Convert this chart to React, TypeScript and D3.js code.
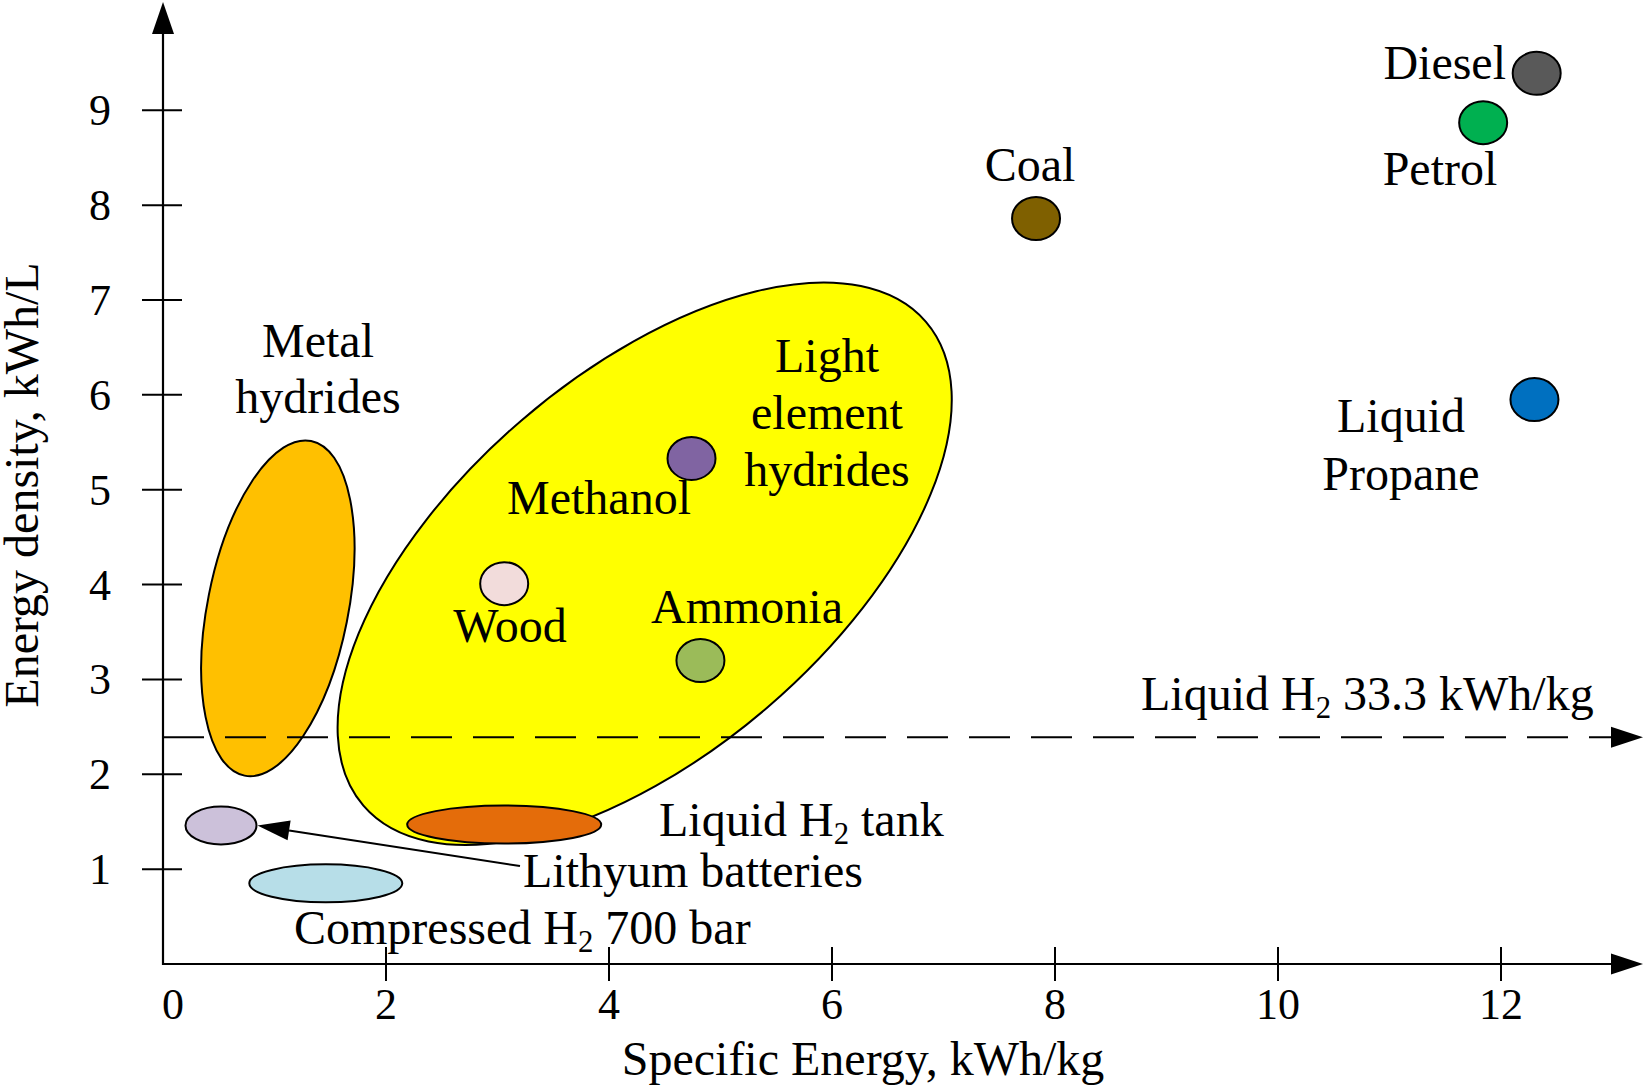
import React from "react";
import * as d3 from "d3";

// ---------- data ----------
const xTickValues = [0, 2, 4, 6, 8, 10, 12];
const yTickValues = [1, 2, 3, 4, 5, 6, 7, 8, 9];

const fuelNames = ["Diesel", "Petrol", "Coal", "Liquid Propane", "Methanol", "Wood", "Ammonia"];
const fuelSpecificEnergy = [12.32, 11.84, 7.83, 12.3, 4.74, 3.06, 4.82];
const fuelEnergyDensity = [9.39, 8.87, 7.86, 5.95, 5.33, 4.01, 3.2];

const regionNames = ["Light element hydrides", "Metal hydrides", "Liquid H2 tank", "Lithyum batteries", "Compressed H2 700 bar"];
const regionSpecificEnergy = [4.32, 1.03, 3.06, 0.52, 1.46];
const regionEnergyDensity = [4.22, 3.75, 1.47, 1.46, 0.85];

const liquidH2Density = 2.39;

// ---------- styles ----------
const W = 1645;
const H = 1087;
const FONT = "'Liberation Serif', 'Times New Roman', Times, serif";
const fuelColors: Record<string, string> = {
  Diesel: "#595959",
  Petrol: "#00B050",
  Coal: "#7F6000",
  "Liquid Propane": "#0070C0",
  Methanol: "#8064A2",
  Wood: "#F2DCDB",
  Ammonia: "#9BBB59",
};
const regionStyle: Record<string, { rx: number; ry: number; rot: number; fill: string }> = {
  "Light element hydrides": { rx: 371, ry: 189, rot: -40.7, fill: "#FFFF00" },
  "Metal hydrides": { rx: 70.3, ry: 170.6, rot: 11.25, fill: "#FFC000" },
  "Liquid H2 tank": { rx: 97, ry: 19, rot: 0, fill: "#E46C0A" },
  "Lithyum batteries": { rx: 35.5, ry: 19, rot: 0, fill: "#CCC1DA" },
  "Compressed H2 700 bar": { rx: 76.5, ry: 19, rot: 0, fill: "#B7DEE8" },
};

export default function App() {
  const x = d3.scaleLinear().domain([0, 12]).range([163, 1501]);
  const y = d3.scaleLinear().domain([0, 9]).range([964, 110.3]);
  const x0 = x(0);
  const y0 = y(0);

  const fuels = fuelNames.map((n, i) => ({ name: n, sx: fuelSpecificEnergy[i], dy: fuelEnergyDensity[i] }));
  const regions = regionNames.map((n, i) => ({ name: n, sx: regionSpecificEnergy[i], dy: regionEnergyDensity[i] }));
  const reg = (n: string) => regions.find((r) => r.name === n)!;
  const fuel = (n: string) => fuels.find((f) => f.name === n)!;

  const fs = 48;
  const tfs = 44;
  const sub = (t: string) => (
    <tspan fontSize={fs * 0.64} dy={8}>
      {t}
    </tspan>
  );

  const drawRegion = (n: string) => {
    const r = reg(n);
    const s = regionStyle[n];
    const cx = x(r.sx);
    const cy = y(r.dy);
    return (
      <ellipse
        key={n}
        cx={0}
        cy={0}
        rx={s.rx}
        ry={s.ry}
        transform={`translate(${cx},${cy}) rotate(${s.rot})`}
        fill={s.fill}
        stroke="#000"
        strokeWidth={2}
      />
    );
  };

  const lith = reg("Lithyum batteries");
  const lithTipX = x(lith.sx) + regionStyle["Lithyum batteries"].rx + 1;
  const lithTipY = y(lith.dy);
  const arrowStartX = 520;
  const arrowStartY = 866;
  const ang = Math.atan2(arrowStartY - lithTipY, arrowStartX - lithTipX);
  const ahL = 32;
  const ahW = 10;
  const bx = lithTipX + ahL * Math.cos(ang);
  const by = lithTipY + ahL * Math.sin(ang);
  const px = -Math.sin(ang) * ahW;
  const py = Math.cos(ang) * ahW;

  const dashY = y(liquidH2Density);

  return (
    <svg
      width={W}
      height={H}
      style={{ position: "absolute", left: 0, top: 0, background: "#fff" }}
      fontFamily={FONT}
    >
      <rect x={0} y={0} width={W} height={H} fill="#fff" />

      {/* regions */}
      {drawRegion("Light element hydrides")}
      {drawRegion("Metal hydrides")}

      {/* liquid H2 dashed line */}
      <line x1={x0} x2={1612} y1={dashY} y2={dashY} stroke="#000" strokeWidth={2} strokeDasharray="41 21" />
      <path d={`M1643,${dashY} L1611,${dashY - 10.5} L1611,${dashY + 10.5} Z`} fill="#000" />

      {drawRegion("Liquid H2 tank")}
      {drawRegion("Lithyum batteries")}
      {drawRegion("Compressed H2 700 bar")}

      {/* fuels */}
      {fuels.map((f) => (
        <ellipse
          key={f.name}
          cx={x(f.sx)}
          cy={y(f.dy)}
          rx={24}
          ry={21.5}
          fill={fuelColors[f.name]}
          stroke="#000"
          strokeWidth={2}
        />
      ))}

      {/* axes */}
      <line x1={x0} x2={x0} y1={y0 + 1} y2={32} stroke="#000" strokeWidth={2.2} />
      <path d={`M${x0},2 L${x0 - 11},34 L${x0 + 11},34 Z`} fill="#000" />
      <line x1={x0 - 1} x2={1612} y1={y0} y2={y0} stroke="#000" strokeWidth={2.2} />
      <path d={`M1643,${y0} L1611,${y0 - 10.5} L1611,${y0 + 10.5} Z`} fill="#000" />

      {yTickValues.map((v) => (
        <g key={"y" + v}>
          <line x1={x0 - 21} x2={x0 + 19} y1={y(v)} y2={y(v)} stroke="#000" strokeWidth={2} />
          <text x={100} y={y(v) + 15} fontSize={tfs} textAnchor="middle">
            {v}
          </text>
        </g>
      ))}
      {xTickValues.map((v) => (
        <g key={"x" + v}>
          {v !== 0 && <line x1={x(v)} x2={x(v)} y1={y0 - 17} y2={y0 + 17} stroke="#000" strokeWidth={2} />}
          <text x={x(v) + (v === 0 ? 10 : 0)} y={1019} fontSize={tfs} textAnchor="middle">
            {v}
          </text>
        </g>
      ))}

      {/* axis titles */}
      <text x={863} y={1075} fontSize={fs} textAnchor="middle">
        Specific Energy, kWh/kg
      </text>
      <text transform="translate(38,485) rotate(-90)" fontSize={fs} textAnchor="middle">
        Energy density, kWh/L
      </text>

      {/* arrow to lithium batteries */}
      <line x1={arrowStartX} y1={arrowStartY} x2={bx} y2={by} stroke="#000" strokeWidth={2} />
      <path
        d={`M${lithTipX},${lithTipY} L${bx + px},${by + py} L${bx - px},${by - py} Z`}
        fill="#000"
      />

      {/* labels */}
      <g fontSize={fs}>
        <text x={1506} y={79} textAnchor="end">{fuel("Diesel").name}</text>
        <text x={1440} y={185} textAnchor="middle">{fuel("Petrol").name}</text>
        <text x={1030} y={181} textAnchor="middle">{fuel("Coal").name}</text>
        <text x={1401} y={432} textAnchor="middle">Liquid</text>
        <text x={1401} y={490} textAnchor="middle">Propane</text>
        <text x={599} y={514} textAnchor="middle">{fuel("Methanol").name}</text>
        <text x={510} y={642} textAnchor="middle">{fuel("Wood").name}</text>
        <text x={747} y={623} textAnchor="middle">{fuel("Ammonia").name}</text>

        <text x={827} y={372} textAnchor="middle">Light</text>
        <text x={827} y={429} textAnchor="middle">element</text>
        <text x={827} y={486} textAnchor="middle">hydrides</text>

        <text x={318} y={357} textAnchor="middle">Metal</text>
        <text x={318} y={413} textAnchor="middle">hydrides</text>

        <text x={1141} y={710}>
          Liquid H{sub("2")}
          <tspan dy={-8}> 33.3 kWh/kg</tspan>
        </text>
        <text x={659} y={836}>
          Liquid H{sub("2")}
          <tspan dy={-8}> tank</tspan>
        </text>
        <text x={523} y={887}>Lithyum batteries</text>
        <text x={294} y={944}>
          Compressed H{sub("2")}
          <tspan dy={-8}> 700 bar</tspan>
        </text>
      </g>
    </svg>
  );
}
